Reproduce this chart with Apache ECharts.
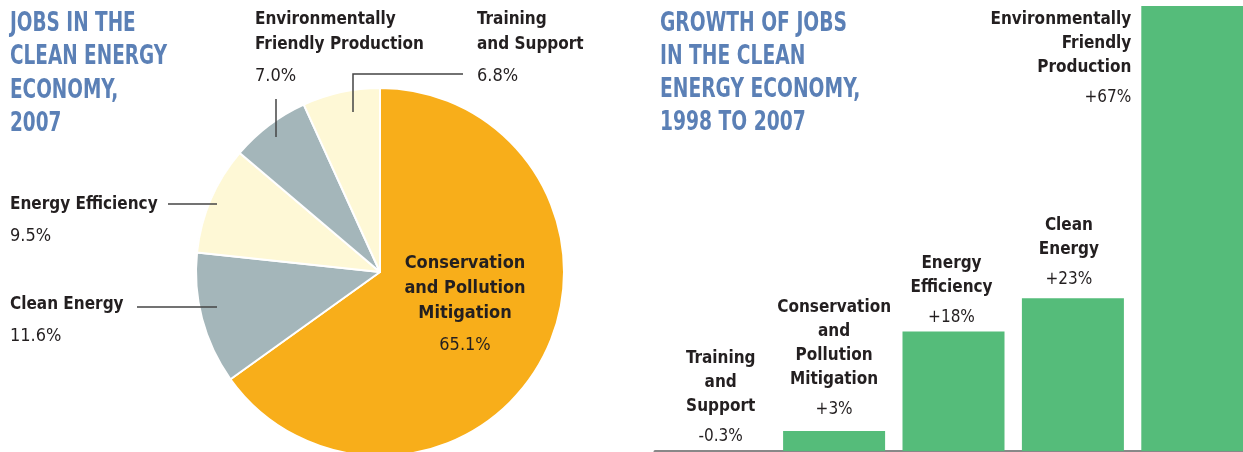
<!DOCTYPE html>
<html><head><meta charset="utf-8">
<script src="https://cdn.jsdelivr.net/npm/echarts@6/dist/echarts.min.js"></script>
<style>html,body{margin:0;padding:0;background:#fff}#c{width:1243px;height:452px}</style>
</head><body><div id="c"></div>
<script>
// ---- data ----
const pieCategories = ['Conservation\nand Pollution\nMitigation', 'Clean Energy', 'Energy Efficiency', 'Environmentally\nFriendly Production', 'Training\nand Support'];
const pieValues = [65.1, 11.6, 9.5, 7.0, 6.8];
const pieValueLabels = ['65.1%', '11.6%', '9.5%', '7.0%', '6.8%'];

const barCategories = ['Training\nand\nSupport', 'Conservation\nand\nPollution\nMitigation', 'Energy\nEfficiency', 'Clean\nEnergy', 'Environmentally\nFriendly\nProduction'];
const barValues = [-0.3, 3, 18, 23, 67];
const barValueLabels = ['-0.3%', '+3%', '+18%', '+23%', '+67%'];

const leftTitle = 'JOBS IN THE\nCLEAN ENERGY\nECONOMY,\n2007';
const rightTitle = 'GROWTH OF JOBS\nIN THE CLEAN\nENERGY ECONOMY,\n1998 TO 2007';

// ---- styles / layout ----
const FONT = '"DejaVu Sans Condensed", "Liberation Sans Narrow", "Liberation Sans", sans-serif';
const INK = '#231F20';
const pieColors = ['#F8AE1A', '#A4B6BA', '#FEF8D6', '#A4B6BA', '#FEF8D6'];
const pieLabelLayout = [
  { x: 465, y: 251, align: 'center', suffix: 'c' },
  { x: 10, y: 292, align: 'left', suffix: 'l', line: [[217, 307], [177, 307], [137, 307]] },
  { x: 10, y: 192, align: 'left', suffix: 'l', line: [[217, 204], [192, 204], [168, 204]] },
  { x: 255, y: 7, align: 'left', suffix: 'l', line: [[276, 137], [276, 118], [276, 99]] },
  { x: 477, y: 7, align: 'left', suffix: 'l', line: [[353, 112], [353, 74], [463, 74]] }
];
const barLabelCfg = [
  { position: 'top', offset: [6, 4], s: 'c' },
  { position: 'top', offset: [0, -3], s: 'c' },
  { position: 'top', offset: [-2, 4], s: 'c' },
  { position: 'top', offset: [-4, -1], s: 'c' },
  { position: [-10, 2], align: 'right', verticalAlign: 'top', offset: [0, 0], s: 'r' }
];

function rich(name, val, s) {
  return name.split('\n').map(l => '{n' + s + '|' + l + '}').join('\n') + '\n{v' + s + '|' + val + '}';
}

const pieRich = {
  nl: { fontFamily: FONT, fontWeight: 'bold', fontSize: 17, lineHeight: 25, color: INK, align: 'left' },
  vl: { fontFamily: FONT, fontSize: 18, lineHeight: 39, color: INK, align: 'left' },
  nc: { fontFamily: FONT, fontWeight: 'bold', fontSize: 18, lineHeight: 25, color: INK, align: 'center' },
  vc: { fontFamily: FONT, fontSize: 18, lineHeight: 39, color: INK, align: 'center' }
};
const barRich = {
  nc: { fontFamily: FONT, fontWeight: 'bold', fontSize: 17, lineHeight: 24, color: INK, align: 'center' },
  vc: { fontFamily: FONT, fontSize: 17, lineHeight: 36, color: INK, align: 'center' },
  nr: { fontFamily: FONT, fontWeight: 'bold', fontSize: 17, lineHeight: 24, color: INK, align: 'right' },
  vr: { fontFamily: FONT, fontSize: 17, lineHeight: 36, color: INK, align: 'right' }
};

const titleStyle = { fontFamily: FONT, fontWeight: 'bold', fontSize: 27, fill: '#5B80B6' };

const pieCommon = {
  type: 'pie', center: [380, 272], radius: 184, startAngle: 90, clockwise: true,
  silent: true, emphasis: { disabled: true }
};

const chart = echarts.init(document.getElementById('c'), null, { renderer: 'canvas' });
chart.setOption({
  animation: false,
  backgroundColor: '#fff',
  graphic: [
    { type: 'text', left: 10, top: 7, scaleX: 0.76, silent: true,
      style: Object.assign({ text: leftTitle, lineHeight: 33.5 }, titleStyle) },
    { type: 'text', left: 660, top: 7, scaleX: 0.77, silent: true,
      style: Object.assign({ text: rightTitle, lineHeight: 33 }, titleStyle) }
  ],
  grid: { left: 655, width: 597, top: 6, bottom: 1, outerBoundsMode: 'none', containLabel: false },
  xAxis: {
    type: 'category', data: barCategories,
    axisLine: { show: true, lineStyle: { color: '#888', width: 3 } },
    axisTick: { show: false }, axisLabel: { show: false }, splitLine: { show: false }
  },
  yAxis: { type: 'value', min: 0, max: 67, show: false, splitLine: { show: false } },
  series: [
    Object.assign({}, pieCommon, {
      z: 2,
      itemStyle: { borderColor: '#fff', borderWidth: 2 },
      label: { show: false }, labelLine: { show: false },
      data: pieValues.map((v, i) => ({ value: v, name: pieCategories[i], itemStyle: { color: pieColors[i] } }))
    }),
    Object.assign({}, pieCommon, {
      z: 5,
      itemStyle: { color: 'rgba(0,0,0,0)', borderWidth: 0 },
      data: pieValues.map((v, i) => ({
        value: v, name: pieCategories[i],
        label: { show: true, overflow: 'none', formatter: rich(pieCategories[i], pieValueLabels[i], pieLabelLayout[i].suffix), rich: pieRich },
        labelLine: { show: !!pieLabelLayout[i].line, lineStyle: { color: '#444', width: 1.5 } }
      })),
      label: { position: 'outside', overflow: 'none', rich: pieRich },
      labelLine: { show: true, length: 10, length2: 10, lineStyle: { color: '#444', width: 1.5 } },
      labelLayout: function (p) {
        const c = pieLabelLayout[p.dataIndex];
        const o = { x: c.x, y: c.y, align: c.align, verticalAlign: 'top' };
        if (c.line) o.labelLinePoints = c.line;
        return o;
      }
    }),
    {
      type: 'bar', barWidth: 102, silent: true, emphasis: { disabled: true },
      itemStyle: { color: '#55BC7A' },
      data: barValues.map((v, i) => {
        const c = barLabelCfg[i];
        const lab = { show: true, position: c.position, distance: 0, offset: c.offset, rich: barRich,
          formatter: rich(barCategories[i], barValueLabels[i], c.s) };
        if (c.align) lab.align = c.align;
        if (c.verticalAlign) lab.verticalAlign = c.verticalAlign;
        return { value: v, label: lab };
      })
    }
  ]
});
</script></body></html>
